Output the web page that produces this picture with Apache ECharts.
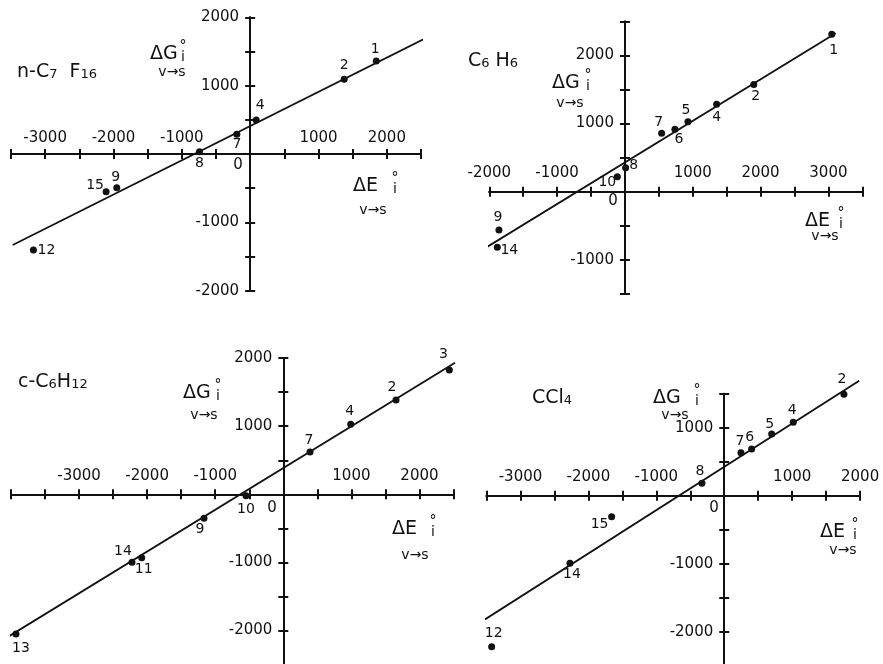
<!DOCTYPE html>
<html>
<head>
<meta charset="utf-8">
<script src="https://cdn.jsdelivr.net/npm/echarts@6/dist/echarts.min.js"></script>
<style>
  html, body { margin: 0; background: #fff; }
  #chart { width: 883px; height: 664px; }
</style>
</head>
<body>
<div id="chart"></div>
<script>
// n-C7F16
var p1Ids = ['1', '2', '4', '7', '8', '9', '15', '12'];
var p1X = [1845, 1376, 88, -195, -742, -1952, -2108, -3172];
var p1Y = [1361, 1093, 497, 288, 34, -493, -551, -1405];
var p1LineX = [-3475, 2538];
var p1LineY = [-1331, 1678];
var p1XLabels = [-3000, -2000, -1000, 1000, 2000];
var p1YLabels = [2000, 1000, -1000, -2000];

// C6H6
var p2Ids = ['1', '2', '4', '5', '6', '7', '8', '10', '9', '14'];
var p2X = [3050, 1900, 1352, 929, 737, 541, 10, -112, -1858, -1882];
var p2Y = [2310, 1575, 1283, 1028, 916, 857, 352, 220, -562, -816];
var p2LineX = [-2065, 3108];
var p2LineY = [-831, 2326];
var p2XLabels = [-2000, -1000, 1000, 2000, 3000];
var p2YLabels = [2000, 1000, -1000];

// c-C6H12
var p3Ids = ['3', '2', '4', '7', '10', '9', '14', '11', '13'];
var p3X = [2439, 1656, 990, 392, -548, -1165, -2223, -2080, -3927];
var p3Y = [1825, 1385, 1028, 621, -20, -352, -999, -930, -2051];
var p3LineX = [-4055, 2522];
var p3LineY = [-2100, 1932];
var p3XLabels = [-3000, -2000, -1000, 1000, 2000];
var p3YLabels = [2000, 1000, -1000, -2000];

// CCl4
var p4Ids = ['2', '4', '5', '6', '7', '8', '15', '14', '12'];
var p4X = [1762, 1016, 698, 403, 246, -328, -1658, -2271, -3424];
var p4Y = [1491, 1079, 907, 687, 632, 182, -309, -994, -2221];
var p4LineX = [-3523, 1987];
var p4LineY = [-1819, 1691];
var p4XLabels = [-3000, -2000, -1000, 1000, 2000];
var p4YLabels = [1000, -1000, -2000];

// label offsets of the point numbers (px)
var p1Off = [[-1, -12], [0, -14], [4, -15], [0, 10], [0, 12], [-1, -10], [-11, -6], [13, 0]];
var p2Off = [[2, 16], [2, 12], [0, 13], [-2, -11], [4, 10], [-3, -11], [8, -2], [-10, 6], [-1, -13], [12, 3]];
var p3Off = [[-6, -16], [-4, -13], [-1, -13], [-1, -12], [0, 14], [-4, 11], [-9, -11], [2, 12], [5, 14]];
var p4Off = [[-2, -15], [-1, -12], [-2, -10], [-2, -12], [-1, -11], [-2, -12], [-12, 8], [2, 11], [2, -13]];

var panels = [
  { left: 11, top: 17.3, width: 410, height: 273.4, xMin: -3500, xMax: 2500, yMin: -2000, yMax: 2000, lm: 8,
    ids: p1Ids, xs: p1X, ys: p1Y, off: p1Off, lx: p1LineX, ly: p1LineY, xl: p1XLabels, yl: p1YLabels },
  { left: 489.3, top: 21.4, width: 373, height: 272.4, xMin: -2000, xMax: 3500, yMin: -1500, yMax: 2500, lm: 11,
    ids: p2Ids, xs: p2X, ys: p2Y, off: p2Off, lx: p2LineX, ly: p2LineY, xl: p2XLabels, yl: p2YLabels },
  { left: 11, top: 358.1, width: 442.5, height: 306.5, xMin: -4000, xMax: 2500, yMin: -2500, yMax: 2000, lm: 11,
    ids: p3Ids, xs: p3X, ys: p3Y, off: p3Off, lx: p3LineX, ly: p3LineY, xl: p3XLabels, yl: p3YLabels },
  { left: 486.5, top: 393.7, width: 373.6, height: 272, xMin: -3500, xMax: 2000, yMin: -2500, yMax: 1500, lm: 11,
    ids: p4Ids, xs: p4X, ys: p4Y, off: p4Off, lx: p4LineX, ly: p4LineY, xl: p4XLabels, yl: p4YLabels }
];

var ink = '#111';
var font = 'DejaVu Sans';

var grids = [], xAxes = [], yAxes = [], series = [];

panels.forEach(function (p, i) {
  grids.push({ left: p.left, top: p.top, width: p.width, height: p.height, outerBoundsMode: 'none' });
  // distance from grid edges to the zero lines
  var zx = (0 - p.xMin) / (p.xMax - p.xMin) * p.width;
  var zy = (p.yMax - 0) / (p.yMax - p.yMin) * p.height;
  var line = { show: true, onZero: false, lineStyle: { color: ink, width: 2 } };
  var tick = { show: true, length: 5, lineStyle: { color: ink, width: 2 } };
  var base = { type: 'value', gridIndex: i, interval: 500, splitLine: { show: false }, axisLine: line, axisTick: tick };

  xAxes.push(Object.assign({}, base, {
    min: p.xMin, max: p.xMax, position: 'top', offset: -zy,
    axisLabel: {
      show: true, margin: p.lm, fontFamily: font, fontSize: 15, color: ink,
      showMinLabel: true, showMaxLabel: true,
      formatter: function (v) { return p.xl.indexOf(v) >= 0 ? String(v) : ''; }
    }
  }));
  xAxes.push(Object.assign({}, base, {
    min: p.xMin, max: p.xMax, position: 'bottom', offset: -(p.height - zy),
    axisLabel: { show: false }
  }));
  yAxes.push(Object.assign({}, base, {
    min: p.yMin, max: p.yMax, position: 'left', offset: -zx,
    axisLabel: {
      show: true, margin: 11, fontFamily: font, fontSize: 15, color: ink,
      showMinLabel: true, showMaxLabel: true,
      formatter: function (v) { return p.yl.indexOf(v) >= 0 ? String(v) : ''; }
    }
  }));
  yAxes.push(Object.assign({}, base, {
    min: p.yMin, max: p.yMax, position: 'right', offset: -(p.width - zx),
    axisLabel: { show: false }
  }));

  series.push({
    type: 'line', xAxisIndex: 2 * i, yAxisIndex: 2 * i, clip: false, silent: true,
    showSymbol: false, lineStyle: { color: ink, width: 1.8 },
    data: [[p.lx[0], p.ly[0]], [p.lx[1], p.ly[1]]]
  });
  series.push({
    type: 'scatter', xAxisIndex: 2 * i, yAxisIndex: 2 * i, clip: false, silent: true,
    symbolSize: 7, itemStyle: { color: ink, opacity: 1 },
    label: { show: true, position: 'inside', formatter: '{b}', fontFamily: font, fontSize: 14, color: ink },
    data: p.xs.map(function (x, k) {
      return { name: p.ids[k], value: [x, p.ys[k]], label: { offset: p.off[k] } };
    })
  });
});

function txt(x, y, text, size, align) {
  return { type: 'text', x: x, y: y, silent: true,
    style: { text: text, fontFamily: font, fontSize: size, fill: ink, align: align || 'left', verticalAlign: 'middle' } };
}
function chem(x, y, text) {
  return { type: 'text', x: x, y: y, silent: true,
    style: { text: text, fontFamily: font, fontSize: 19, fill: ink, align: 'left', verticalAlign: 'middle',
      rich: { n: { fontSize: 19, fontFamily: font, fill: ink }, s: { fontSize: 13, fontFamily: font, fill: ink, verticalAlign: 'bottom', lineHeight: 13 } } } };
}
function delta(x, y, letter, sx) {
  return [txt(x, y, '\u0394' + letter, 19), txt(sx, y - 8, '\u00b0', 14, 'center'), txt(sx, y + 3, 'i', 14, 'center')];
}

var texts = [];
texts.push(chem(17, 72, '{n|n-C}{s|7}{n|  F}{s|16}'));
texts = texts.concat(delta(150, 54, 'G', 183), [txt(172, 72, 'v\u2192s', 14, 'center')]);
texts = texts.concat(delta(353, 186, 'E', 395), [txt(373, 210, 'v\u2192s', 14, 'center')]);
texts.push(txt(238, 165, '0', 15, 'center'));

texts.push(chem(468, 61, '{n|C}{s|6}{n| H}{s|6}'));
texts = texts.concat(delta(552, 83, 'G', 588), [txt(570, 103, 'v\u2192s', 14, 'center')]);
texts = texts.concat(delta(805, 221, 'E', 841), [txt(825, 236, 'v\u2192s', 14, 'center')]);
texts.push(txt(613, 201, '0', 15, 'center'));

texts.push(chem(18, 382, '{n|c-C}{s|6}{n|H}{s|12}'));
texts = texts.concat(delta(183, 393, 'G', 218), [txt(204, 415, 'v\u2192s', 14, 'center')]);
texts = texts.concat(delta(392, 529, 'E', 433), [txt(415, 555, 'v\u2192s', 14, 'center')]);
texts.push(txt(272, 508, '0', 15, 'center'));

texts.push(chem(532, 398, '{n|CCl}{s|4}'));
texts = texts.concat(delta(653, 398, 'G', 697), [txt(675, 415, 'v\u2192s', 14, 'center')]);
texts = texts.concat(delta(820, 532, 'E', 855), [txt(843, 550, 'v\u2192s', 14, 'center')]);
texts.push(txt(714, 508, '0', 15, 'center'));

var chart = echarts.init(document.getElementById('chart'));
chart.setOption({
  backgroundColor: '#fff',
  animation: false,
  grid: grids,
  xAxis: xAxes,
  yAxis: yAxes,
  series: series,
  graphic: texts
});
</script>
</body>
</html>
